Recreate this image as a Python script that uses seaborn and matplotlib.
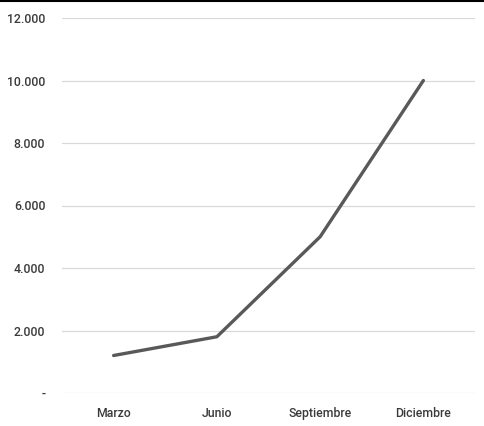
import matplotlib
matplotlib.use("Agg")
import matplotlib.pyplot as plt
import seaborn as sns
import pandas as pd
from matplotlib.ticker import FixedLocator, FixedFormatter

months = ["Marzo", "Junio", "Septiembre", "Diciembre"]
values = [1200, 1800, 5000, 10000]
y_ticks = [0, 2000, 4000, 6000, 8000, 10000, 12000]
y_labels = ["-", "2.000", "4.000", "6.000", "8.000", "10.000", "12.000"]

sns.set_theme(style="white")
plt.rcParams["font.family"] = ["Roboto", "DejaVu Sans"]

df = pd.DataFrame({"mes": months, "valor": values})

fig = plt.figure(figsize=(4.84, 4.26), dpi=100)
ax = fig.add_axes([62 / 484, 33 / 426, 413 / 484, 375 / 426])

sns.lineplot(data=df, x="mes", y="valor", ax=ax, color="#595959",
             linewidth=2.4, sort=False, zorder=3)

ax.set_xlim(-0.5, 3.5)
ax.set_ylim(0, 12000)
ax.yaxis.set_major_locator(FixedLocator(y_ticks))
ax.yaxis.set_major_formatter(FixedFormatter(y_labels))
ax.grid(axis="y", color="#d9d9d9", linewidth=0.9)
ax.grid(axis="x", visible=False)
for s in ax.spines.values():
    s.set_visible(False)
ax.set_xlabel("")
ax.set_ylabel("")
ax.tick_params(axis="both", length=0, colors="#3a3a3a", labelsize=8.8)
ax.tick_params(axis="y", pad=12)
ax.tick_params(axis="x", pad=10)
for lab in ax.get_xticklabels() + ax.get_yticklabels():
    lab.set_color("#3a3a3a")
    lab.set_fontweight("medium")

# thin dark rule along the top edge
fig.add_artist(plt.Line2D([0, 1], [0.998, 0.998], color="black", linewidth=1.5,
                          transform=fig.transFigure))

fig.savefig("out.png", dpi=100)
